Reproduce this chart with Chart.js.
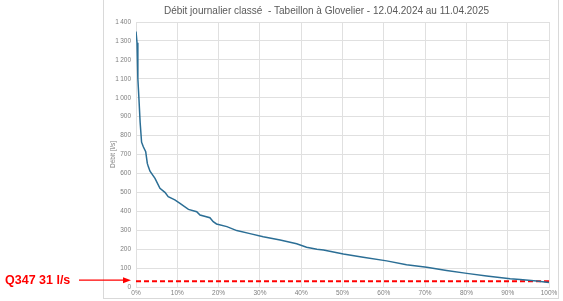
<!DOCTYPE html>
<html>
<head>
<meta charset="utf-8">
<script src="https://cdn.jsdelivr.net/npm/chart.js@4.4.1/dist/chart.umd.min.js"></script>
<style>
  html, body { margin: 0; padding: 0; background: #fff; }
  #wrap { width: 563px; height: 301px; position: relative; }
</style>
</head>
<body>
<div id="wrap"><canvas id="c"></canvas></div>
<script>
// Courbe des débits classés (% du temps dépassé -> débit l/s)
const pctTime = [0, 0.25, 0.45, 0.7, 1.0, 1.35, 1.77, 2.35, 2.74, 2.98, 3.39, 4.6, 5.8, 7.0, 7.8, 9.4, 10.65,
  12.7, 14.7, 15.5, 17.9, 18.7, 19.5, 22.0, 24.4, 27.6, 30.8, 34.9, 38.9, 41.3, 43.8, 45.4, 50.2,
  55.0, 60.7, 65.5, 70.4, 75.2, 80.1, 84.9, 90.6, 93.0, 97.0, 100];
const debit = [1350, 1290, 1100, 1000, 870, 765, 741, 715, 653, 636, 612, 574, 521, 500, 477, 460, 442,
  410, 398, 380, 366, 345, 333, 319, 298, 282, 266, 248, 228, 210, 200, 195, 174,
  157, 138, 118, 104, 87, 72, 58, 44, 40, 32, 24];
const q347 = 31;
const q347Label = "Q347 31 l/s";
const chartTitle = "Débit journalier classé  - Tabeillon à Glovelier - 12.04.2024 au 11.04.2025";
const yTitle = "Débit [l/s]";

const GRID = "#E0E0E0";
const TEXT = "#595959";
const FONT = "'Liberation Sans', Arial, sans-serif";

// cadre du graphique + annotation Q347 à gauche
const extras = {
  id: "extras",
  beforeDraw(chart) {
    const { ctx } = chart;
    ctx.save();
    ctx.strokeStyle = "#D9D9D9";
    ctx.lineWidth = 1;
    ctx.strokeRect(103.5, -1, 455, 299.5);
    ctx.restore();
  },
  afterDraw(chart) {
    const { ctx } = chart;
    const y = chart.scales.y.getPixelForValue(q347) - 1;
    ctx.save();
    ctx.fillStyle = "#FF0000";
    ctx.font = "bold 12.5px " + FONT;
    ctx.textBaseline = "middle";
    ctx.fillText(q347Label, 5, y);
    ctx.strokeStyle = "#FF0000";
    ctx.lineWidth = 1.2;
    ctx.beginPath();
    ctx.moveTo(79, y);
    ctx.lineTo(124, y);
    ctx.stroke();
    ctx.beginPath();
    ctx.moveTo(131, y);
    ctx.lineTo(123, y - 3);
    ctx.lineTo(123, y + 3);
    ctx.closePath();
    ctx.fill();
    ctx.restore();
  }
};

new Chart(document.getElementById("c"), {
  type: "scatter",
  data: {
    datasets: [
      {
        data: pctTime.map((p, i) => ({ x: p, y: debit[i] })),
        showLine: true,
        borderColor: "#2B6E95",
        borderWidth: 1.5,
        pointRadius: 0,
        tension: 0
      },
      {
        data: [{ x: 0, y: q347 }, { x: 100, y: q347 }],
        showLine: true,
        borderColor: "#FF0000",
        borderWidth: 2,
        borderDash: [5, 3],
        pointRadius: 0
      }
    ]
  },
  options: {
    responsive: true,
    maintainAspectRatio: false,
    animation: false,
    layout: { padding: { left: 104, right: 14, top: 0, bottom: 2 } },
    plugins: {
      legend: { display: false },
      tooltip: { enabled: false },
      title: {
        display: true,
        text: chartTitle,
        color: TEXT,
        font: { family: FONT, size: 10, weight: "normal" },
        padding: { top: 5, bottom: 5 }
      }
    },
    scales: {
      x: {
        type: "linear",
        min: 0, max: 100,
        ticks: {
          stepSize: 10,
          color: "#7F7F7F",
          padding: 2,
          font: { family: FONT, size: 6.5 },
          callback: v => v + "%"
        },
        grid: { color: GRID, drawTicks: false },
        border: { color: GRID },
        afterFit: s => { s.height = 12; }
      },
      y: {
        min: 0, max: 1400,
        ticks: {
          stepSize: 100,
          color: "#7F7F7F",
          padding: 5,
          font: { family: FONT, size: 6.5 },
          callback: v => v >= 1000 ? Math.floor(v / 1000) + "\u2009" + String(v % 1000).padStart(3, "0") : String(v)
        },
        title: {
          display: true,
          text: yTitle,
          color: "#7F7F7F",
          padding: { top: 5, bottom: 0 },
          font: { family: FONT, size: 6.5 }
        },
        grid: { color: GRID, drawTicks: false },
        border: { color: GRID },
        afterFit: s => { s.width = 32; }
      }
    }
  },
  plugins: [extras]
});
</script>
</body>
</html>
